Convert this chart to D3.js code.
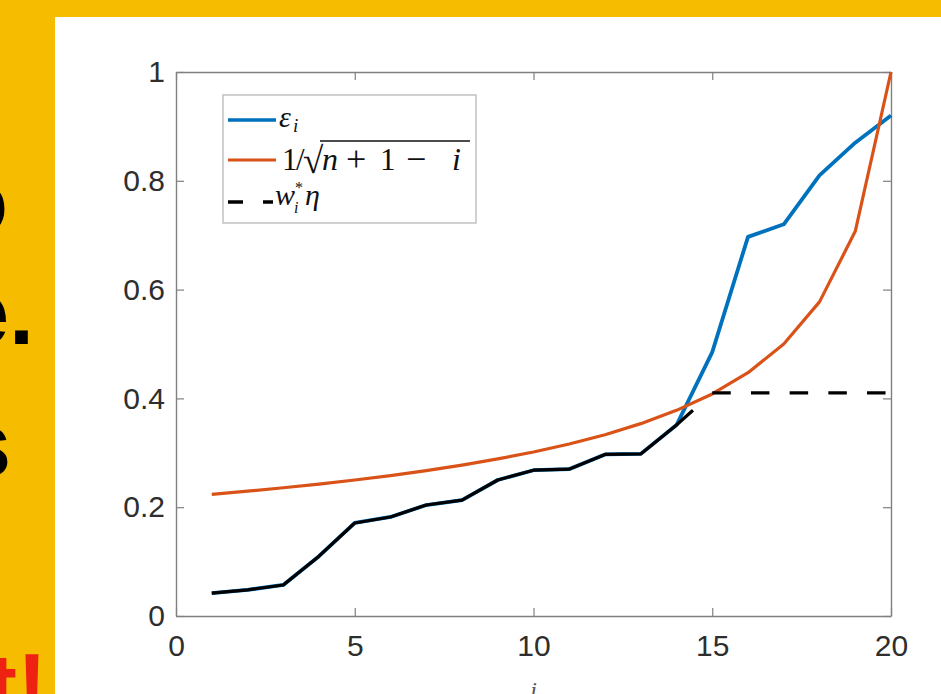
<!DOCTYPE html>
<html>
<head>
<meta charset="utf-8">
<script src="https://cdn.jsdelivr.net/npm/d3@7"></script>
<style>
  html, body { margin: 0; padding: 0; background: #F6BC00; }
  svg { display: block; }
</style>
</head>
<body>
<svg id="chart" width="941" height="694"></svg>
<script>
// ---- data ----
const iValues = [1,2,3,4,5,6,7,8,9,10,11,12,13,14,15,16,17,18,19,20];
const epsValues = [0.042,0.048,0.057,0.110,0.171,0.182,0.204,0.213,0.250,0.268,
                   0.270,0.297,0.298,0.351,0.485,0.697,0.720,0.810,0.870,0.920];
const boundValues = [0.2236,0.2294,0.2357,0.2425,0.2500,0.2582,0.2673,0.2774,0.2887,0.3015,
                     0.3162,0.3333,0.3536,0.3780,0.4082,0.4472,0.5000,0.5774,0.7071,1.0000];
const wEtaValues = [0.042,0.048,0.057,0.110,0.171,0.182,0.204,0.213,0.250,0.268,
                    0.270,0.297,0.298,0.351,0.410,0.410,0.410,0.410,0.410,0.410];
const xTicks = [0,5,10,15,20];
const yTicks = [0,0.2,0.4,0.6,0.8,1];
const yTickLabels = ["0","0.2","0.4","0.6","0.8","1"];

const svg = d3.select("#chart");
const W = 941, H = 694;

// background + white panel
svg.append("rect").attr("x",0).attr("y",0).attr("width",W).attr("height",H).attr("fill","#F6BC00");
svg.append("rect").attr("x",55).attr("y",17).attr("width",W-55).attr("height",H-17).attr("fill","#ffffff");

// cut-off slide text on the left
const big = svg.append("g").attr("font-family","Liberation Sans, Arial, sans-serif")
  .attr("font-weight","bold").attr("font-size",90).attr("text-anchor","end");
big.append("text").attr("x",8).attr("y",233).attr("fill","#000").text("o");
big.append("text").attr("x",34).attr("y",344).attr("fill","#000").text("e.");
big.append("text").attr("x",11).attr("y",476).attr("fill","#000").text("s");
big.append("text").attr("x",47).attr("y",717).attr("fill","#EE2212").text("t!");

// scales
const x = d3.scaleLinear().domain([0,20]).range([176,891]);
const y = d3.scaleLinear().domain([0,1]).range([616,72]);

const axisColor = "#808080";
const labelColor = "#2e2e2e";
const tickFont = "Liberation Sans, Arial, Helvetica, sans-serif";

function styleAxis(g){
  g.selectAll("path.domain").attr("stroke",axisColor).attr("stroke-width",1.4);
  g.selectAll(".tick line").attr("stroke",axisColor).attr("stroke-width",1.2);
  g.selectAll(".tick text").attr("fill",labelColor).attr("font-size",30).attr("font-family",tickFont);
}

const gB = svg.append("g").attr("transform",`translate(0,${y(0)})`)
  .call(d3.axisBottom(x).tickValues(xTicks).tickFormat(d3.format("d")).tickSize(-8).tickSizeOuter(0).tickPadding(19));
styleAxis(gB);
const gT = svg.append("g").attr("transform",`translate(0,${y(1)})`)
  .call(d3.axisTop(x).tickValues(xTicks).tickFormat("").tickSize(-8).tickSizeOuter(0));
styleAxis(gT);
const gL = svg.append("g").attr("transform",`translate(${x(0)},0)`)
  .call(d3.axisLeft(y).tickValues(yTicks).tickFormat((d,i)=>yTickLabels[i]).tickSize(-8).tickSizeOuter(0).tickPadding(11));
styleAxis(gL);
const gR = svg.append("g").attr("transform",`translate(${x(20)},0)`)
  .call(d3.axisRight(y).tickValues(yTicks).tickFormat("").tickSize(-8).tickSizeOuter(0));
styleAxis(gR);

// x-axis label (cut off at the bottom)
svg.append("text").attr("x",x(10)).attr("y",698).attr("text-anchor","middle")
  .attr("font-family","Liberation Serif, Times New Roman, serif").attr("font-style","italic")
  .attr("font-size",24).attr("fill","#555").text("i");

// lines
const line = d3.line().x(d=>x(d[0])).y(d=>y(d[1]));
const epsData = iValues.map((v,k)=>[v,epsValues[k]]);
const boundData = iValues.map((v,k)=>[v,boundValues[k]]);
const wData = iValues.map((v,k)=>[v,wEtaValues[k]]);

const blue = "#0072BD", orange = "#D95319";

svg.append("path").attr("d",line(epsData)).attr("fill","none")
  .attr("stroke",blue).attr("stroke-width",3.8).attr("stroke-linejoin","round");
svg.append("path").attr("d",line(boundData)).attr("fill","none")
  .attr("stroke",orange).attr("stroke-width",3.2).attr("stroke-linejoin","round");

const wPath = svg.append("path").attr("d",line(wData)).attr("fill","none")
  .attr("stroke","#000").attr("stroke-width",3.2).attr("stroke-linejoin","round");
// dash pattern: solid along the first part, then MATLAB-like dashes
const tmp = svg.append("path").attr("d",line(wData.slice(0,14))).attr("fill","none");
const L14 = tmp.node().getTotalLength(); tmp.remove();
const segLen = Math.hypot(x(wData[14][0])-x(wData[13][0]), y(wData[14][1])-y(wData[13][1]));
const dash = [L14+0.46*segLen, 0.54*segLen];
for(let k=0;k<5;k++){ dash.push(18.5,20.2); }
dash.push(18.5,200);
wPath.attr("stroke-dasharray",dash.join(","));

// legend
const leg = svg.append("g");
leg.append("rect").attr("x",223).attr("y",95).attr("width",253).attr("height",128)
  .attr("fill","#fff").attr("stroke","#bdbdbd").attr("stroke-width",1.4);
leg.append("line").attr("x1",228).attr("x2",276).attr("y1",120).attr("y2",120)
  .attr("stroke",blue).attr("stroke-width",3.4);
leg.append("line").attr("x1",228).attr("x2",276).attr("y1",160).attr("y2",160)
  .attr("stroke",orange).attr("stroke-width",3.2);
leg.append("line").attr("x1",228).attr("x2",273).attr("y1",202).attr("y2",202)
  .attr("stroke","#000").attr("stroke-width",3.6).attr("stroke-dasharray","15,20");

const serif = "Liberation Serif, Times New Roman, serif";
const t1 = leg.append("text").attr("font-family",serif).attr("fill","#111");
t1.append("tspan").attr("x",279).attr("y",127).attr("font-style","italic").attr("font-size",30).text("ε");
t1.append("tspan").attr("x",293).attr("y",132).attr("font-style","italic").attr("font-size",19).text("i");

const t2 = leg.append("text").attr("font-family",serif).attr("fill","#111").attr("font-size",31);
t2.append("tspan").attr("x",282).attr("y",170).text("1");
t2.append("tspan").attr("x",296).attr("y",170).text("/");
t2.append("tspan").attr("x",303).attr("y",173).attr("font-size",37).text("√");
t2.append("tspan").attr("x",322).attr("y",170).attr("font-style","italic").attr("font-size",32).text("n");
t2.append("tspan").attr("x",346).attr("y",171).attr("font-size",36).text("+");
t2.append("tspan").attr("x",380).attr("y",170).text("1");
t2.append("tspan").attr("x",406).attr("y",171).attr("font-size",36).text("−");
t2.append("tspan").attr("x",452).attr("y",170).attr("font-style","italic").attr("font-size",32).text("i");
leg.append("line").attr("x1",320).attr("x2",470).attr("y1",141).attr("y2",141)
  .attr("stroke","#111").attr("stroke-width",1.5);

const t3 = leg.append("text").attr("font-family",serif).attr("fill","#111");
t3.append("tspan").attr("x",275).attr("y",205).attr("font-style","italic").attr("font-size",30).text("w");
t3.append("tspan").attr("x",295).attr("y",193).attr("font-size",16).text("*");
t3.append("tspan").attr("x",294).attr("y",213).attr("font-style","italic").attr("font-size",16).text("i");
t3.append("tspan").attr("x",305).attr("y",205).attr("font-style","italic").attr("font-size",30).text("η");
</script>
</body>
</html>
